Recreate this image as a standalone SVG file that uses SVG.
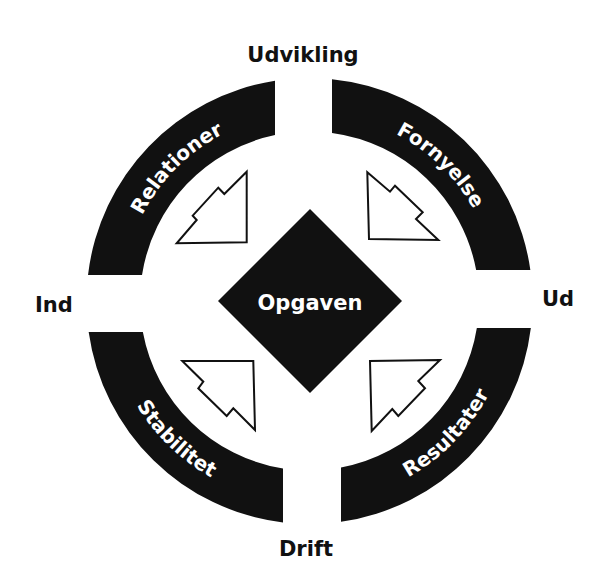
<svg xmlns="http://www.w3.org/2000/svg" width="596" height="567" viewBox="0 0 596 567">
<style>
.seg{fill:#111;}
.arc-t{font-family:"DejaVu Sans",sans-serif;font-weight:bold;font-size:20px;fill:#fff;}
.lbl{font-family:"DejaVu Sans",sans-serif;font-weight:bold;font-size:21px;fill:#111;}
.arr{fill:#fff;stroke:#111;stroke-width:2;stroke-linejoin:miter;}
</style>
<defs>
<path id="p-rel" d="M122.2,284.6 A188,188 0 0 1 293.1,113.7"/>
<path id="p-for" d="M322.6,113.5 A188,188 0 0 1 496.5,281.4"/>
<path id="p-res" d="M330.6,501.9 A202,202 0 0 0 511.0,315.1"/>
<path id="p-sta" d="M108.6,322.1 A202,202 0 0 0 295.4,502.5"/>
</defs>
<rect width="596" height="567" fill="#fff"/>
<g id="relationer">
<path class="seg" d="M88.02,275 A223,223 0 0 1 275,80.69 L275,135.05 A169.5,169.5 0 0 0 142.01,275 Z"/>
<text class="arc-t"><textPath href="#p-rel" startOffset="50%" text-anchor="middle">Relationer</textPath></text>
</g>
<g id="fornyelse">
<path class="seg" d="M332,79.14 A223,223 0 0 1 530.34,270 L476.14,270 A169.5,169.5 0 0 0 332,133 Z"/>
<text class="arc-t"><textPath href="#p-for" startOffset="50%" text-anchor="middle">Fornyelse</textPath></text>
</g>
<g id="resultater">
<path class="seg" d="M530.86,328 A223,223 0 0 1 341,521.76 L341,467.55 A169.5,169.5 0 0 0 476.84,328 Z"/>
<text class="arc-t"><textPath href="#p-res" startOffset="50%" text-anchor="middle">Resultater</textPath></text>
</g>
<g id="stabilitet">
<path class="seg" d="M283,522.42 A223,223 0 0 1 88.66,332 L142.86,332 A169.5,169.5 0 0 0 283,468.42 Z"/>
<text class="arc-t"><textPath href="#p-sta" startOffset="50%" text-anchor="middle">Stabilitet</textPath></text>
</g>
<g id="opgaven">
<polygon class="seg" points="310,209 402,301 310,393 218,301"/>
<text class="lbl" x="310" y="310" text-anchor="middle" fill="#fff" style="fill:#fff">Opgaven</text>
</g>
<g id="udvikling"><text class="lbl" x="303" y="62" text-anchor="middle">Udvikling</text></g>
<g id="ind"><text class="lbl" x="35" y="312">Ind</text></g>
<g id="ud"><text class="lbl" x="542" y="306">Ud</text></g>
<g id="drift"><text class="lbl" x="306" y="556" text-anchor="middle">Drift</text></g>
<g id="connectors">
<path class="arr" d="M246.7,171.7 L246.7,242.3 L176.7,243.3 L196.7,220 L192.7,215.7 L218.3,187.7 L224.3,194 Z"/>
<path class="arr" d="M367.3,172.3 L369,239 L438.3,240 L416,219 L422.7,212.3 L395,185.7 L390,191.7 Z"/>
<path class="arr" d="M182.3,361 L253.3,361 L255,430 L233.3,408.3 L226.7,416 L198.3,388.3 L203.3,381.7 Z"/>
<path class="arr" d="M440,360 L370,361 L371.7,431 L392.3,409 L398.3,416 L425,388.3 L418.3,381 Z"/>
</g>
</svg>
